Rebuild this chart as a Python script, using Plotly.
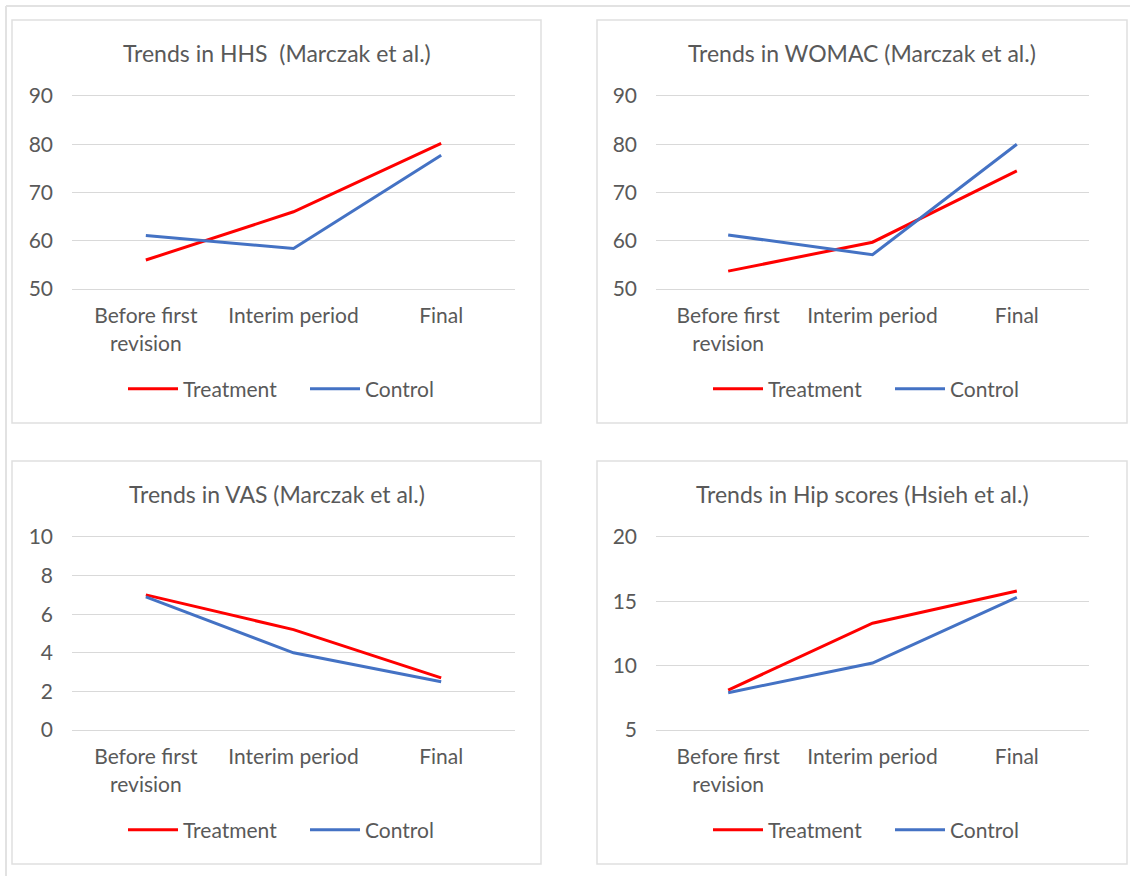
import plotly.graph_objects as go

W, H = 1130, 876

# Time points shared by all four panels
categories = ["Before first<br>revision", "Interim period", "Final"]

# Harris Hip Score (Marczak et al.)
hhs_treatment = [56.0, 66.0, 80.2]
hhs_control = [61.1, 58.4, 77.7]

# WOMAC (Marczak et al.)
womac_treatment = [53.7, 59.7, 74.5]
womac_control = [61.2, 57.1, 80.0]

# VAS (Marczak et al.)
vas_treatment = [7.0, 5.2, 2.7]
vas_control = [6.9, 4.0, 2.5]

# Hip scores (Hsieh et al.)
hip_treatment = [8.1, 13.3, 15.8]
hip_control = [7.9, 10.2, 15.3]

titles = [
    "Trends in HHS  (Marczak et al.)",
    "Trends in WOMAC (Marczak et al.)",
    "Trends in VAS (Marczak et al.)",
    "Trends in Hip scores (Hsieh et al.)",
]
y_ranges = [[50, 90], [50, 90], [0, 10], [5, 20]]
y_dticks = [10, 10, 2, 5]
series = [
    (hhs_treatment, hhs_control),
    (womac_treatment, womac_control),
    (vas_treatment, vas_control),
    (hip_treatment, hip_control),
]

RED = "#FF0000"
BLUE = "#4472C4"
TEXT = "#595959"
GRID = "#D9D9D9"
FONT = "Lato"
TICK_SIZE = 21
TITLE_SIZE = 23


def px_x(v):
    return v / W


def px_y(v):
    return 1 - v / H


# Pixel layout of each panel: box (x0, y0, x1, y1) and plot area (x0, y0, x1, y1)
boxes = [(12, 20, 541, 423), (597, 20, 1127, 423), (12, 461, 541, 864), (597, 461, 1127, 864)]
plots = [(72, 96, 515, 289), (656, 96, 1089, 289), (72, 537, 515, 730), (656, 537, 1089, 730)]
title_y = [53, 53, 494, 494]
legend_y = [389, 389, 830, 830]
legend_left = [123, 708, 123, 708]

fig = go.Figure()
layout = dict(
    width=W,
    height=H,
    margin=dict(l=0, r=0, t=0, b=0, pad=0, autoexpand=False),
    paper_bgcolor="white",
    plot_bgcolor="white",
    font=dict(family=FONT, color=TEXT, size=TICK_SIZE),
    showlegend=True,
)
shapes = []
annotations = []

# Outer frame edges
shapes.append(dict(type="line", xref="paper", yref="paper", x0=px_x(6), x1=1, y0=px_y(6), y1=px_y(6),
                   line=dict(color="#E2E2E2", width=2), layer="below"))
shapes.append(dict(type="line", xref="paper", yref="paper", x0=px_x(6), x1=px_x(6), y0=px_y(6), y1=0,
                   line=dict(color="#E2E2E2", width=2), layer="below"))

for i in range(4):
    n = i + 1
    xa = "x" if n == 1 else f"x{n}"
    ya = "y" if n == 1 else f"y{n}"
    lg = "legend" if n == 1 else f"legend{n}"
    treat, ctrl = series[i]
    bx0, by0, bx1, by1 = boxes[i]
    px0, py0, px1, py1 = plots[i]

    fig.add_trace(go.Scatter(x=categories, y=treat, mode="lines", name="Treatment",
                             line=dict(color=RED, width=3), xaxis=xa, yaxis=ya, legend=lg))
    fig.add_trace(go.Scatter(x=categories, y=ctrl, mode="lines", name="Control",
                             line=dict(color=BLUE, width=3), xaxis=xa, yaxis=ya, legend=lg))

    xkey = "xaxis" if n == 1 else f"xaxis{n}"
    ykey = "yaxis" if n == 1 else f"yaxis{n}"
    # Horizontal axis line at the bottom, mirrored at the top to close the grid
    layout[xkey] = dict(
        domain=[px_x(px0), px_x(px1)],
        anchor=ya,
        type="category",
        range=[-0.5, 2.5],
        showgrid=False,
        showline=True,
        linecolor=GRID,
        linewidth=1,
        mirror=True,
        zeroline=False,
        ticks="",
        ticklabelstandoff=8,
        tickfont=dict(size=TICK_SIZE, color=TEXT, family=FONT),
        automargin=False,
        fixedrange=True,
    )
    layout[ykey] = dict(
        domain=[px_y(py1), px_y(py0)],
        anchor=xa,
        range=y_ranges[i],
        dtick=y_dticks[i],
        tick0=0,
        showgrid=True,
        gridcolor=GRID,
        gridwidth=1,
        showline=False,
        zeroline=False,
        ticks="",
        ticklabelstandoff=18,
        tickfont=dict(size=TICK_SIZE, color=TEXT, family=FONT),
        automargin=False,
        fixedrange=True,
    )
    layout[lg] = dict(
        orientation="h",
        x=px_x(legend_left[i]),
        xanchor="left",
        y=px_y(legend_y[i]),
        yanchor="middle",
        font=dict(size=TICK_SIZE, color=TEXT, family=FONT),
        bgcolor="rgba(0,0,0,0)",
        itemwidth=50,
        entrywidth=117,
        entrywidthmode="pixels",
    )

    # Panel frame
    shapes.append(dict(type="rect", xref="paper", yref="paper",
                       x0=px_x(bx0), x1=px_x(bx1), y0=px_y(by1), y1=px_y(by0),
                       line=dict(color="#E0E0E0", width=1.5), fillcolor="rgba(0,0,0,0)", layer="below"))
    # Panel title
    annotations.append(dict(text=titles[i], xref="paper", yref="paper",
                            x=px_x((bx0 + bx1) / 2), y=px_y(title_y[i]),
                            xanchor="center", yanchor="middle", showarrow=False,
                            font=dict(size=TITLE_SIZE, color=TEXT, family=FONT)))

layout["shapes"] = shapes
layout["annotations"] = annotations
fig.update_layout(**layout)

fig.write_html("out.html")
